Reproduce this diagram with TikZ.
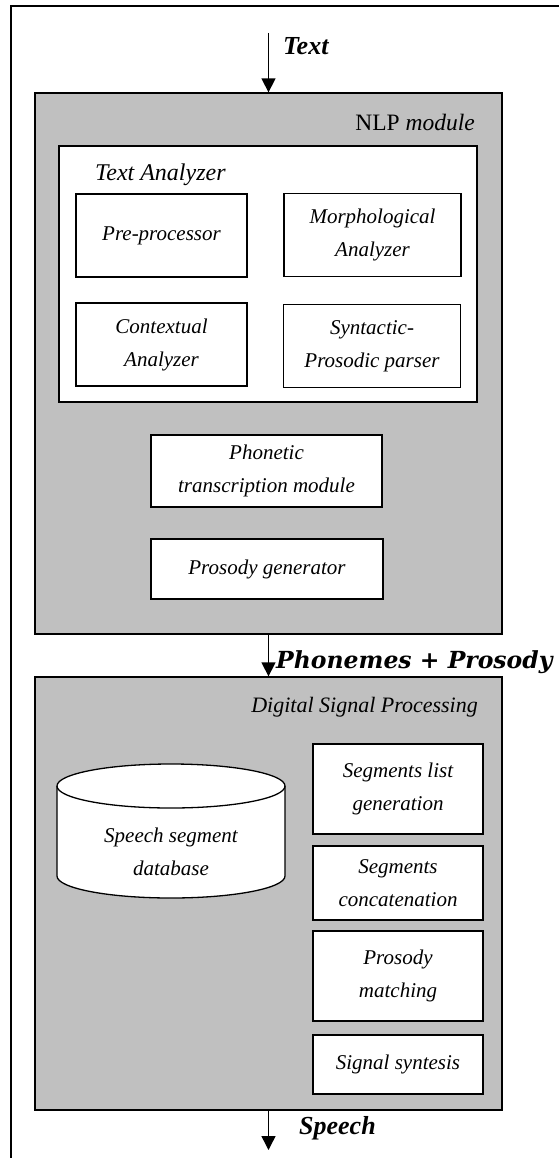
\documentclass[tikz,border=0pt]{standalone}
\usepackage{fontspec}
\setmainfont{Liberation Serif}
\newfontfamily\labelfont{DejaVu Serif}
\usetikzlibrary{arrows.meta}

\begin{document}
\begin{tikzpicture}[x=1pt,y=-1pt,
  module/.style={draw,line width=1.3pt,fill=modgray,inner sep=0pt},
  stage/.style={draw,line width=1.3pt,fill=white,inner sep=0pt,align=center,
    font=\fontsize{21}{33}\selectfont\itshape},
  title/.style={inner sep=0pt,font=\fontsize{22}{25}\selectfont\itshape},
  flow/.style={line width=1.4pt,-{Triangle[width=14pt,length=14pt]}},
  flowlabel/.style={inner sep=0pt,anchor=west,font=\fontsize{26}{28}\selectfont\bfseries\itshape}]
\definecolor{modgray}{HTML}{C0C0C0}
\useasboundingbox (0,0) rectangle (559,1158);
\draw[line width=1.3pt] (559,6) -- (11,6) -- (11,1158);
\node[module,minimum width=467pt,minimum height=541pt] (nlp) at (268.5,363.5) {};
\node[title,anchor=east,font=\fontsize{23.5}{25}\selectfont\itshape] (nlptitle) at (475,122) {\upshape NLP \itshape module};
\node[stage,minimum width=418pt,minimum height=256pt] (analyzer) at (268,274) {};
\node[title,anchor=west,font=\fontsize{24}{25}\selectfont\itshape] (analyzertitle) at (95,175) {Text Analyzer};
\node[stage,minimum width=171pt,minimum height=83pt] (pre) at (161.5,235.5) {Pre-processor};
\node[stage,minimum width=177pt,minimum height=83pt] (morph) at (372.5,235) {Morphological\\Analyzer};
\node[stage,minimum width=171pt,minimum height=83pt] (context) at (161.5,344.5) {Contextual\\Analyzer};
\node[stage,minimum width=177pt,minimum height=83pt] (syntax) at (372,346) {Syntactic-\\Prosodic parser};
\node[stage,minimum width=231pt,minimum height=72pt] (phonetic) at (266.5,471) {Phonetic\\transcription module};
\node[stage,minimum width=232pt,minimum height=60pt] (prosody) at (267,569) {Prosody generator};
\node[module,minimum width=467pt,minimum height=433pt] (dsp) at (268.5,893.5) {};
\node[title,anchor=east] (dsptitle) at (478,707) {Digital Signal Processing};
\draw[line width=1.3pt,fill=white] (57,786) -- (57,876) arc[start angle=180,end angle=0,x radius=114,y radius=22]
  -- (285,786) arc[start angle=0,end angle=-180,x radius=114,y radius=22] -- cycle;
\draw[line width=1.3pt] (57,786) arc[start angle=180,end angle=0,x radius=114,y radius=22];
\node[inner sep=0pt,align=center,font=\fontsize{21}{33}\selectfont\itshape] (database) at (171,852) {Speech segment\\database};
\node[stage,minimum width=170pt,minimum height=90pt] (seglist) at (398,789) {Segments list\\generation};
\node[stage,minimum width=170pt,minimum height=74pt] (concat) at (398,883) {Segments\\concatenation};
\node[stage,minimum width=170pt,minimum height=90pt] (matching) at (398,976) {Prosody\\matching};
\node[stage,minimum width=170pt,minimum height=59pt] (synthesis) at (398,1064.5) {Signal syntesis};
\coordinate (input) at (268.5,33);
\coordinate (output) at (268.5,1150);
\draw[flow] (input) -- (nlp.north);
\draw[flow] (nlp.south) -- (dsp.north);
\draw[flow] (dsp.south) -- (output);
\node[flowlabel] (textlabel) at (283,46) {Text};
\node[flowlabel,font=\labelfont\fontsize{23.5}{26}\selectfont\bfseries\itshape] (phonlabel) at (276,662) {Phonemes + Prosody};
\node[flowlabel] (speechlabel) at (299,1128) {Speech};
\end{tikzpicture}
\end{document}
